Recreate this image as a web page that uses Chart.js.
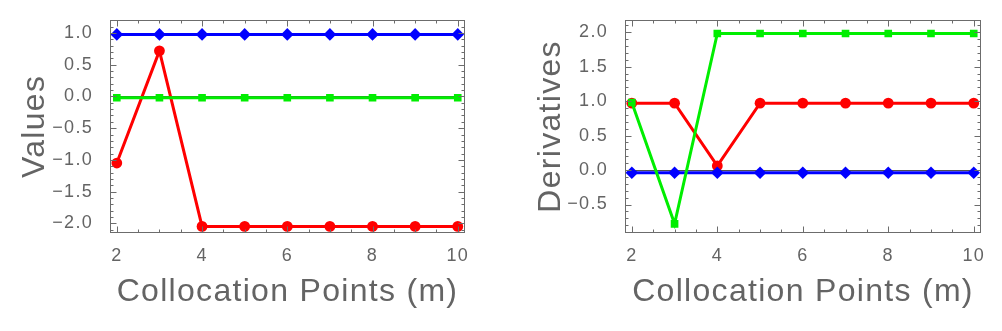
<!DOCTYPE html>
<html>
<head>
<meta charset="utf-8">
<script src="https://cdn.jsdelivr.net/npm/chart.js@4.4.1/dist/chart.umd.min.js"></script>
<style>
  html, body { margin: 0; padding: 0; background: #fff; }
  #wrap { position: relative; width: 1002px; height: 331px; }
  canvas { position: absolute; top: 0; }
  #valuesChart { left: 0; }
  #derivChart { left: 500px; }
</style>
</head>
<body>
<div id="wrap">
  <canvas id="valuesChart" width="490" height="331"></canvas>
  <canvas id="derivChart" width="502" height="331"></canvas>
</div>
<script>
// collocation points m
const points = [2, 3, 4, 5, 6, 7, 8, 9, 10];

// values at the collocation points
const valuesRed   = [-1.05, 0.72, -2.05, -2.05, -2.05, -2.05, -2.05, -2.05, -2.05];
const valuesBlue  = [0.98, 0.98, 0.98, 0.98, 0.98, 0.98, 0.98, 0.98, 0.98];
const valuesGreen = [-0.02, -0.02, -0.02, -0.02, -0.02, -0.02, -0.02, -0.02, -0.02];

// derivatives at the collocation points
const derivRed   = [0.97, 0.97, 0.06, 0.97, 0.97, 0.97, 0.97, 0.97, 0.97];
const derivBlue  = [-0.04, -0.04, -0.04, -0.04, -0.04, -0.04, -0.04, -0.04, -0.04];
const derivGreen = [0.98, -0.78, 1.98, 1.98, 1.98, 1.98, 1.98, 1.98, 1.98];

// tick labels
const xTicks = [2, 4, 6, 8, 10];
const valuesTicks = [-2, -1.5, -1, -0.5, 0, 0.5, 1];
const derivTicks = [-0.5, 0, 0.5, 1, 1.5, 2];

const TEXT = '#646464';
const FRAME = '#6c6c6c';
const TICK_FONT = {family: "'Liberation Sans', Arial, sans-serif", size: 18};

Chart.defaults.font.family = "'Liberation Sans', Arial, sans-serif";
Chart.defaults.color = TEXT;

const pairs = ys => points.map((x, i) => ({x: x, y: ys[i]}));

function fmt(v) {
    const s = Math.abs(v).toFixed(1);
    return v < 0 ? '\u2212' + s : s;
}

// frame with inward ticks on all four sides, plus the y = 0 axis line
const frameTicks = {
    id: 'frameTicks',
    beforeDraw(chart) {
        chart.ctx.letterSpacing = '1.3px';
    },
    beforeDatasetsDraw(chart) {
        const {ctx, chartArea: a, scales: {x, y}} = chart;
        const y0 = Math.round(y.getPixelForValue(0)) + 0.5;
        ctx.save();
        ctx.strokeStyle = '#505050';
        ctx.lineWidth = 1;
        ctx.beginPath();
        ctx.moveTo(a.left, y0);
        ctx.lineTo(a.right, y0);
        ctx.stroke();
        ctx.restore();
    },
    afterDraw(chart) {
        const {ctx, chartArea: a, scales: {x, y}} = chart;
        const L = Math.round(a.left) + 0.5, R = Math.round(a.right) - 0.5;
        const T = Math.round(a.top) + 0.5, B = Math.round(a.bottom) - 0.5;
        ctx.save();
        ctx.strokeStyle = FRAME;
        ctx.lineWidth = 1;
        ctx.strokeRect(L, T, R - L, B - T);
        ctx.beginPath();
        // x ticks every 0.5, major on labelled values
        for (let v = Math.ceil(x.min * 2) / 2; v <= x.max + 1e-9; v += 0.5) {
            const px = Math.round(x.getPixelForValue(v)) + 0.5;
            const len = xTicks.includes(v) ? 6 : 3;
            ctx.moveTo(px, B); ctx.lineTo(px, B - len);
            ctx.moveTo(px, T); ctx.lineTo(px, T + len);
        }
        // y ticks every 0.1, major every 0.5
        const majors = y.ticks.map(t => t.value);
        for (let k = Math.ceil(y.min * 10); k <= Math.floor(y.max * 10); k++) {
            const v = k / 10;
            const py = Math.round(y.getPixelForValue(v)) + 0.5;
            const len = majors.some(m => Math.abs(m - v) < 1e-9) ? 6 : 3;
            ctx.moveTo(L, py); ctx.lineTo(L + len, py);
            ctx.moveTo(R, py); ctx.lineTo(R - len, py);
        }
        ctx.stroke();
        ctx.restore();
    }
};

function makeChart(id, cfg) {
    return new Chart(document.getElementById(id), {
        type: 'line',
        data: {
            datasets: [
                {data: pairs(cfg.green), borderColor: '#00ee00', backgroundColor: '#00ee00',
                 pointStyle: 'rect', pointRadius: 5.4, borderWidth: 3, pointBorderWidth: 0},
                {data: pairs(cfg.blue), borderColor: '#0000ff', backgroundColor: '#0000ff',
                 pointStyle: 'rectRot', pointRadius: 6.3, borderWidth: 3, pointBorderWidth: 0},
                {data: pairs(cfg.red), borderColor: '#ff0000', backgroundColor: '#ff0000',
                 pointStyle: 'circle', pointRadius: 5.4, borderWidth: 3, pointBorderWidth: 0}
            ]
        },
        options: {
            responsive: false,
            animation: false,
            events: [],
            layout: {padding: {top: 14, right: cfg.padRight, left: 0, bottom: 0}},
            plugins: {legend: {display: false}, tooltip: {enabled: false}},
            elements: {line: {tension: 0}},
            scales: {
                x: {
                    type: 'linear',
                    min: 1.84,
                    max: 10.17,
                    grid: {display: false},
                    border: {display: false},
                    afterBuildTicks: s => { s.ticks = xTicks.map(v => ({value: v})); },
                    afterFit: s => { s.height = 98; },
                    ticks: {font: TICK_FONT, color: TEXT, padding: 4, maxRotation: 0},
                    title: {display: true, text: 'Collocation Points (m)', color: TEXT,
                            font: {size: 32, lineHeight: 1}, padding: {bottom: 23}}
                },
                y: {
                    min: cfg.yMin,
                    max: cfg.yMax,
                    grid: {display: false},
                    border: {display: false},
                    afterBuildTicks: s => { s.ticks = cfg.ticks.map(v => ({value: v})); },
                    afterFit: s => { s.width = cfg.axisWidth; },
                    ticks: {font: TICK_FONT, color: TEXT, padding: 9, callback: v => fmt(v)},
                    title: {display: true, text: cfg.title, color: TEXT,
                            font: {size: 32, lineHeight: 1}, padding: {top: cfg.titlePad}}
                }
            }
        },
        plugins: [frameTicks]
    });
}

makeChart('valuesChart', {
    red: valuesRed, blue: valuesBlue, green: valuesGreen,
    yMin: -2.154, yMax: 1.21, ticks: valuesTicks,
    title: 'Values', axisWidth: 110, padRight: 25, titlePad: 19.5
});

makeChart('derivChart', {
    red: derivRed, blue: derivBlue, green: derivGreen,
    yMin: -0.913, yMax: 2.179, ticks: derivTicks,
    title: 'Derivatives', axisWidth: 125, padRight: 21, titlePad: 35.5
});
</script>
</body>
</html>
